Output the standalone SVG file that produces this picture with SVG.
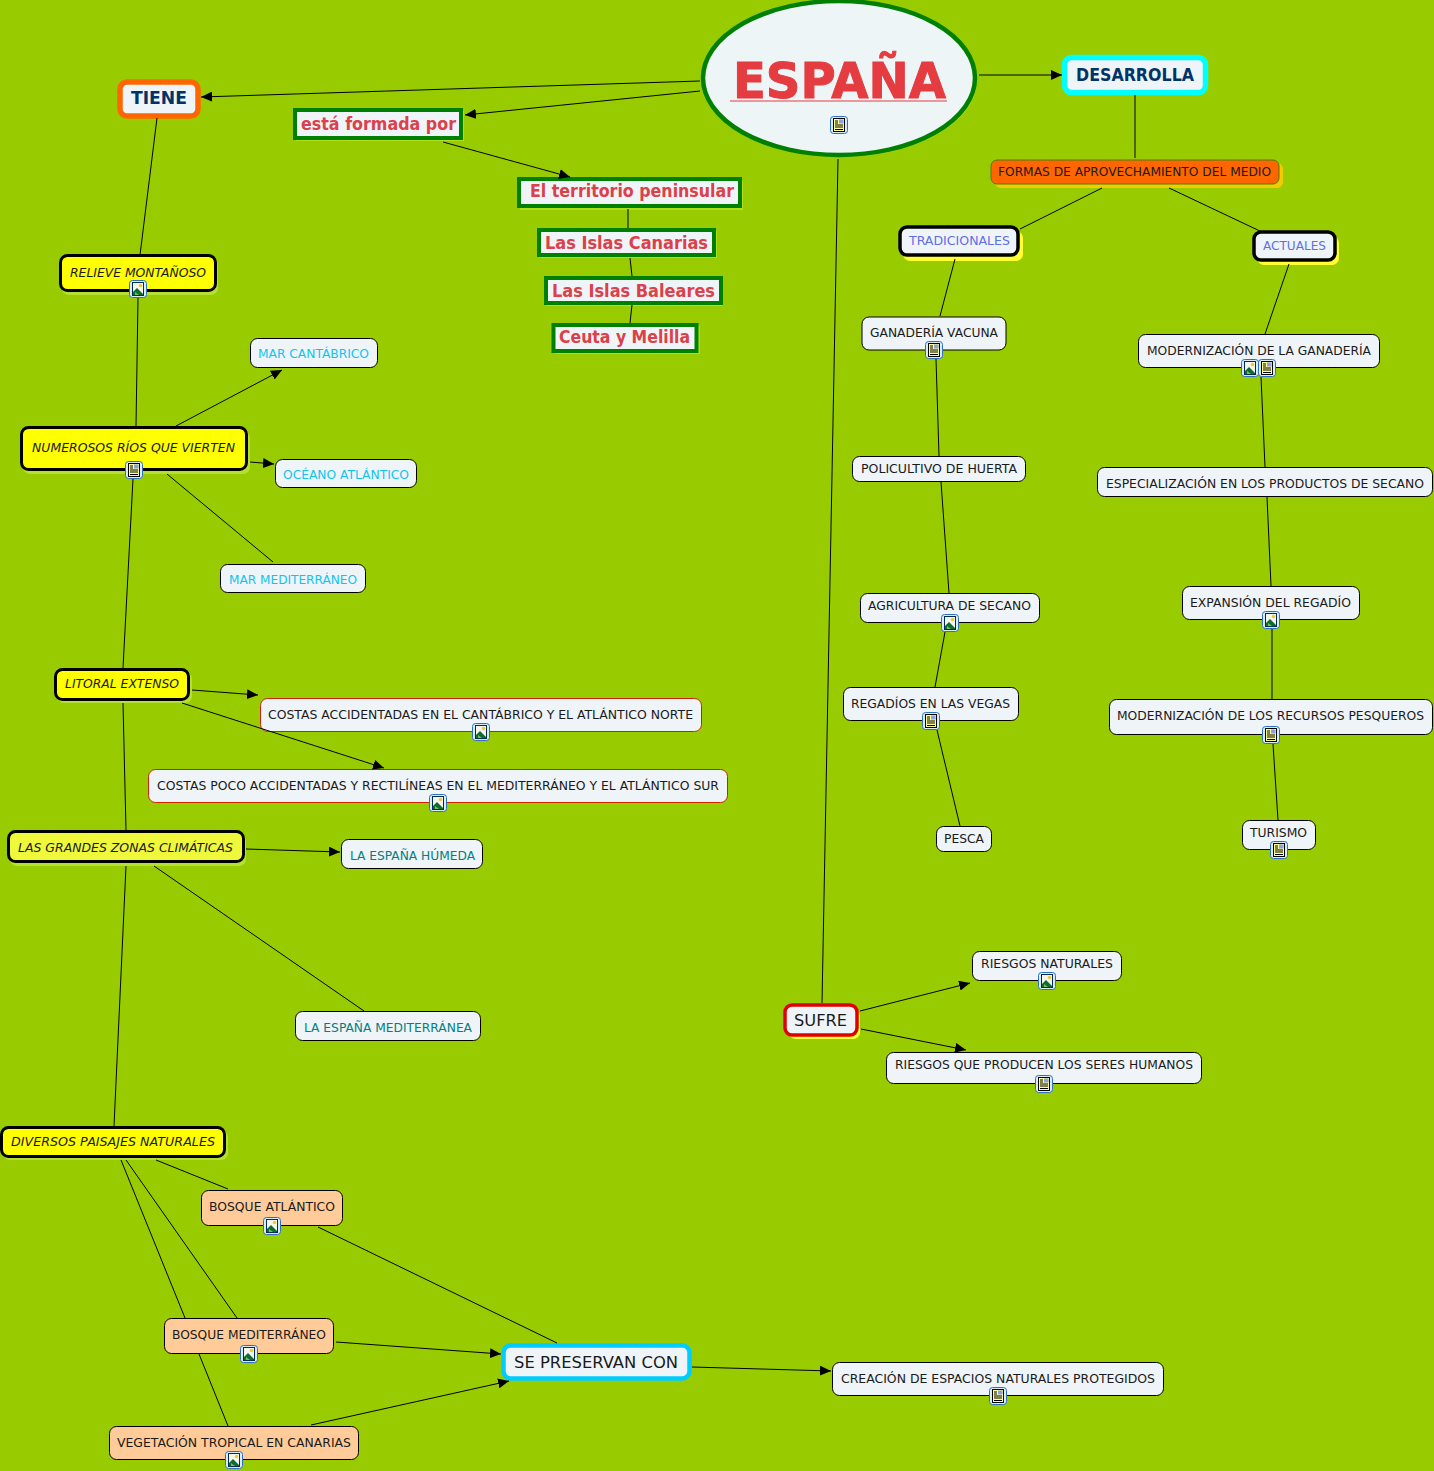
<svg xmlns="http://www.w3.org/2000/svg" width="1434" height="1471" viewBox="0 0 1434 1471">
<style>
text{font-family:"DejaVu Sans",Verdana,sans-serif;font-size:12px;fill:#1a1a1a}
.n{fill:#eff4f8;stroke:#000;stroke-width:1}
.nr{fill:#eff4f8;stroke:#cc2200;stroke-width:1}
.or{fill:#ffcc99;stroke:#000;stroke-width:1}
.y{fill:#ffff00;stroke:#000;stroke-width:3}
.w{fill:#eff4f8;stroke:#000;stroke-width:3.5}
.g{fill:#eff4f8;stroke:#008000;stroke-width:4}
.sg{fill:#ace01a}
.sy{fill:#ffff33}
.yt{font-style:italic;font-size:13px}
.gt{font-weight:bold;font-size:17px;fill:#dc4048}
.nv{font-weight:bold;font-size:17px;fill:#003366}
.cy{fill:#11c4ee}
.te{fill:#008080}
.bl{fill:#5f6fe8}
#c line{stroke:#000;stroke-width:1;fill:none}
#c .a{marker-end:url(#ah)}
</style>
<defs>
<marker id="ah" markerUnits="userSpaceOnUse" markerWidth="12" markerHeight="10" refX="11" refY="5" orient="auto"><path d="M0 0L11 5L0 10Z" fill="#000"/></marker>
<g id="doc"><rect x="-8.500" y="-8.500" width="17" height="17" rx="3" fill="#d8ecfa" stroke="#2f6fc0"/><rect x="-5.500" y="-6.500" width="11" height="13" fill="#ffff99" stroke="#000"/><path d="M-4 -4H-1M-4 -2H-1M-4 0H4M-4 2H4M-4 4.500H4" stroke="#000" stroke-width="1"/><rect x="0" y="-5.500" width="4.500" height="4" fill="#8fa0e0"/></g>
<g id="img"><rect x="-8.500" y="-8.500" width="17" height="17" rx="3" fill="#d8ecfa" stroke="#2f6fc0"/><rect x="-5.500" y="-6.500" width="11" height="13" fill="#f4f6ee" stroke="#002a5a"/><path d="M-5 6L-5 3L-1 -1L5 5L5 6Z" fill="#0f6b30"/><path d="M-3 3L1 6H-3Z" fill="#7fbf4f"/><circle cx="2.500" cy="-3.500" r="1.700" fill="#f0c830"/></g>
</defs>
<rect width="1434" height="1471" fill="#99cc00"/>
<g id="espana"><ellipse cx="841" cy="80" rx="136" ry="77" fill="#b5e033"/><ellipse cx="839" cy="78" rx="136" ry="77" fill="#eef5f7" stroke="#008000" stroke-width="4.500"/><text x="733" y="98" font-weight="bold" stroke="#e43c40" stroke-width="1" style="font-size:50px;fill:#e43c40" textLength="213" lengthAdjust="spacingAndGlyphs">ESPAÑA</text><rect x="730" y="100.500" width="217" height="1" fill="#e43c40"/><use href="#doc" x="839" y="125"/></g>
<g id="tiene"><rect x="120" y="82" width="78" height="34" rx="7" fill="#eff4f8" stroke="#ff6600" stroke-width="5.500"/><text class="nv" x="131" y="104" textLength="56" lengthAdjust="spacingAndGlyphs">TIENE</text></g>
<g id="formada"><rect x="296" y="111" width="168" height="30" class="sg"/><rect class="g" x="295" y="110" width="166" height="28"/><text class="gt" x="301" y="130" textLength="155" lengthAdjust="spacingAndGlyphs">está formada por</text></g>
<g id="peninsular"><rect x="520" y="181" width="223" height="29" class="sg"/><rect class="g" x="519" y="179" width="221" height="27"/><text class="gt" x="530" y="197" textLength="204" lengthAdjust="spacingAndGlyphs">El territorio peninsular</text></g>
<g id="canarias"><rect x="540" y="231" width="177" height="27" class="sg"/><rect class="g" x="539" y="230" width="175" height="25"/><text class="gt" x="545" y="249" textLength="163" lengthAdjust="spacingAndGlyphs">Las Islas Canarias</text></g>
<g id="baleares"><rect x="546" y="279" width="177" height="27" class="sg"/><rect class="g" x="546" y="278" width="175" height="25"/><text class="gt" x="552" y="297" textLength="163" lengthAdjust="spacingAndGlyphs">Las Islas Baleares</text></g>
<g id="ceuta"><rect x="555" y="326" width="145" height="28" class="sg"/><rect class="g" x="553.500" y="325" width="143" height="26"/><text class="gt" x="559" y="343" textLength="131" lengthAdjust="spacingAndGlyphs">Ceuta y Melilla</text></g>
<g id="desarrolla"><rect x="1064.500" y="57.500" width="141" height="35" rx="7" fill="#eff4f8" stroke="#00ffff" stroke-width="5.500"/><text class="nv" x="1076" y="81" textLength="118" lengthAdjust="spacingAndGlyphs">DESARROLLA</text></g>
<g id="formas"><rect x="995" y="163" width="288" height="25" rx="6" fill="#f0cc00"/><rect x="991" y="160" width="288" height="24" rx="6" fill="#ff6600" stroke="#4d7a00"/><text x="998" y="176" textLength="273" lengthAdjust="spacingAndGlyphs">FORMAS DE APROVECHAMIENTO DEL MEDIO</text></g>
<g id="tradicionales"><rect x="903" y="231" width="120" height="30" rx="7" class="sy"/><rect class="w" x="900" y="227" width="118" height="28" rx="7"/><text class="bl" x="909" y="245" textLength="101" lengthAdjust="spacingAndGlyphs">TRADICIONALES</text></g>
<g id="actuales"><rect x="1257" y="236" width="82" height="29" rx="7" class="sy"/><rect class="w" x="1254" y="232" width="81" height="28" rx="7"/><text class="bl" x="1263" y="250" textLength="63" lengthAdjust="spacingAndGlyphs">ACTUALES</text></g>
<g id="ganaderia"><rect class="n" x="862" y="317" width="144" height="33" rx="7"/><text x="870" y="337" textLength="128" lengthAdjust="spacingAndGlyphs">GANADERÍA VACUNA</text><use href="#doc" x="934" y="350"/></g>
<g id="modgan"><rect class="n" x="1138.500" y="334.500" width="241" height="33" rx="7"/><text x="1147" y="355" textLength="224" lengthAdjust="spacingAndGlyphs">MODERNIZACIÓN DE LA GANADERÍA</text><use href="#img" x="1250" y="368"/><use href="#doc" x="1267" y="368"/></g>
<g id="policultivo"><rect class="n" x="852.500" y="456.500" width="173" height="25" rx="7"/><text x="861" y="473" textLength="156" lengthAdjust="spacingAndGlyphs">POLICULTIVO DE HUERTA</text></g>
<g id="especial"><rect class="n" x="1097.500" y="467.500" width="335" height="29" rx="7"/><text x="1106" y="488" textLength="318" lengthAdjust="spacingAndGlyphs">ESPECIALIZACIÓN EN LOS PRODUCTOS DE SECANO</text></g>
<g id="agricultura"><rect class="n" x="860.500" y="593.500" width="179" height="29" rx="7"/><text x="868" y="610" textLength="163" lengthAdjust="spacingAndGlyphs">AGRICULTURA DE SECANO</text><use href="#img" x="950" y="623"/></g>
<g id="expansion"><rect class="n" x="1182.500" y="586.500" width="177" height="33" rx="7"/><text x="1190" y="607" textLength="161" lengthAdjust="spacingAndGlyphs">EXPANSIÓN DEL REGADÍO</text><use href="#img" x="1271" y="620"/></g>
<g id="regadios"><rect class="n" x="843.500" y="687.500" width="175" height="33" rx="7"/><text x="851" y="708" textLength="159" lengthAdjust="spacingAndGlyphs">REGADÍOS EN LAS VEGAS</text><use href="#doc" x="931" y="721"/></g>
<g id="pesqueros"><rect class="n" x="1109.500" y="699.500" width="323" height="35" rx="7"/><text x="1117" y="720" textLength="307" lengthAdjust="spacingAndGlyphs">MODERNIZACIÓN DE LOS RECURSOS PESQUEROS</text><use href="#doc" x="1271" y="735"/></g>
<g id="pesca"><rect class="n" x="936.500" y="826.500" width="55" height="25" rx="7"/><text x="944" y="843" textLength="40" lengthAdjust="spacingAndGlyphs">PESCA</text></g>
<g id="turismo"><rect class="n" x="1242.500" y="820.500" width="73" height="29" rx="7"/><text x="1250" y="837" textLength="57" lengthAdjust="spacingAndGlyphs">TURISMO</text><use href="#doc" x="1279" y="850"/></g>
<g id="sufre"><rect x="789" y="1009" width="71" height="30" rx="7" class="sy"/><rect x="785" y="1005" width="72" height="30" rx="7" fill="#eff4f8" stroke="#e00000" stroke-width="3.500"/><text x="794" y="1026" style="font-size:16px" textLength="53" lengthAdjust="spacingAndGlyphs">SUFRE</text></g>
<g id="rnat"><rect class="n" x="972.500" y="951.500" width="149" height="29" rx="7"/><text x="981" y="968" textLength="132" lengthAdjust="spacingAndGlyphs">RIESGOS NATURALES</text><use href="#img" x="1047" y="981"/></g>
<g id="rhum"><rect class="n" x="886.500" y="1052.500" width="315" height="31" rx="7"/><text x="895" y="1069" textLength="298" lengthAdjust="spacingAndGlyphs">RIESGOS QUE PRODUCEN LOS SERES HUMANOS</text><use href="#doc" x="1044" y="1084"/></g>
<g id="relieve"><rect x="62" y="258" width="156" height="37" rx="7" fill="#b5e033"/><rect class="y" x="60.500" y="255.500" width="155" height="35" rx="7"/><text class="yt" x="70" y="277" textLength="136" lengthAdjust="spacingAndGlyphs">RELIEVE MONTAÑOSO</text><use href="#img" x="138" y="289"/></g>
<g id="rios"><rect x="23" y="431" width="227" height="43" rx="7" fill="#b5e033"/><rect class="y" x="21.500" y="427.500" width="225" height="42" rx="7"/><text class="yt" x="32" y="452" textLength="203" lengthAdjust="spacingAndGlyphs">NUMEROSOS RÍOS QUE VIERTEN</text><use href="#doc" x="134" y="470"/></g>
<g id="cantabrico"><rect class="n" x="250.500" y="338.500" width="127" height="29" rx="7"/><text class="cy" x="258" y="358" textLength="111" lengthAdjust="spacingAndGlyphs">MAR CANTÁBRICO</text></g>
<g id="atlantico"><rect class="n" x="275.500" y="459.500" width="141" height="28" rx="7"/><text class="cy" x="283" y="479" textLength="126" lengthAdjust="spacingAndGlyphs">OCÉANO ATLÁNTICO</text></g>
<g id="mediterraneo"><rect class="n" x="220.500" y="564.500" width="145" height="28" rx="7"/><text class="cy" x="229" y="584" textLength="128" lengthAdjust="spacingAndGlyphs">MAR MEDITERRÁNEO</text></g>
<g id="litoral"><rect x="57" y="672" width="135" height="31" rx="7" fill="#b5e033"/><rect class="y" x="55.500" y="669.500" width="133" height="30" rx="7"/><text class="yt" x="65" y="688" textLength="114" lengthAdjust="spacingAndGlyphs">LITORAL EXTENSO</text></g>
<g id="costas1"><rect class="nr" x="260.500" y="698.500" width="441" height="33" rx="7"/><text x="268" y="719" textLength="425" lengthAdjust="spacingAndGlyphs">COSTAS ACCIDENTADAS EN EL CANTÁBRICO Y EL ATLÁNTICO NORTE</text><use href="#img" x="481" y="732"/></g>
<g id="costas2"><rect class="nr" x="148.500" y="769.500" width="579" height="33" rx="7"/><text x="157" y="790" textLength="562" lengthAdjust="spacingAndGlyphs">COSTAS POCO ACCIDENTADAS Y RECTILÍNEAS EN EL MEDITERRÁNEO Y EL ATLÁNTICO SUR</text><use href="#img" x="438" y="803"/></g>
<g id="climas"><rect x="10" y="834" width="236" height="32" rx="7" fill="#b5e033"/><rect x="8.500" y="831.500" width="235" height="30" rx="7" fill="#f0f83c" stroke="#000" stroke-width="3"/><text class="yt" x="18" y="852" textLength="215" lengthAdjust="spacingAndGlyphs">LAS GRANDES ZONAS CLIMÁTICAS</text></g>
<g id="humeda"><rect class="n" x="341.500" y="839.500" width="141" height="29" rx="7"/><text class="te" x="350" y="860" textLength="125" lengthAdjust="spacingAndGlyphs">LA ESPAÑA HÚMEDA</text></g>
<g id="medit"><rect class="n" x="295.500" y="1011.500" width="185" height="29" rx="7"/><text class="te" x="304" y="1032" textLength="168" lengthAdjust="spacingAndGlyphs">LA ESPAÑA MEDITERRÁNEA</text></g>
<g id="paisajes"><rect x="3" y="1130" width="225" height="30" rx="7" fill="#b5e033"/><rect class="y" x="1.500" y="1127.500" width="223" height="29" rx="7"/><text class="yt" x="11" y="1146" textLength="204" lengthAdjust="spacingAndGlyphs">DIVERSOS PAISAJES NATURALES</text></g>
<g id="batl"><rect class="or" x="201.500" y="1190.500" width="141" height="35" rx="7"/><text x="209" y="1211" textLength="126" lengthAdjust="spacingAndGlyphs">BOSQUE ATLÁNTICO</text><use href="#img" x="272" y="1226"/></g>
<g id="bmed"><rect class="or" x="164.500" y="1318.500" width="169" height="35" rx="7"/><text x="172" y="1339" textLength="154" lengthAdjust="spacingAndGlyphs">BOSQUE MEDITERRÁNEO</text><use href="#img" x="249" y="1354"/></g>
<g id="veg"><rect class="or" x="109.500" y="1426.500" width="249" height="33" rx="7"/><text x="117" y="1447" textLength="234" lengthAdjust="spacingAndGlyphs">VEGETACIÓN TROPICAL EN CANARIAS</text><use href="#img" x="234" y="1460"/></g>
<g id="preservan"><rect x="503.500" y="1345.500" width="186" height="33" rx="7" fill="#eff4f8" stroke="#00ccff" stroke-width="4.500"/><text x="514" y="1368" style="font-size:16px" textLength="164" lengthAdjust="spacingAndGlyphs">SE PRESERVAN CON</text></g>
<g id="creacion"><rect class="n" x="832.500" y="1362.500" width="331" height="33" rx="7"/><text x="841" y="1383" textLength="314" lengthAdjust="spacingAndGlyphs">CREACIÓN DE ESPACIOS NATURALES PROTEGIDOS</text><use href="#doc" x="998" y="1396"/></g>
<g id="c">
<line class="a" x1="700" y1="81" x2="201" y2="97"/>
<line class="a" x1="700" y1="91" x2="465" y2="115"/>
<line class="a" x1="979" y1="75" x2="1062" y2="75"/>
<line x1="1135" y1="95" x2="1135" y2="158"/>
<line x1="1102" y1="188" x2="1020" y2="229"/>
<line x1="1169" y1="188" x2="1262" y2="232"/>
<line class="a" x1="443" y1="142" x2="570" y2="177"/>
<line x1="628" y1="209" x2="628" y2="228"/>
<line x1="630" y1="258" x2="632" y2="276"/>
<line x1="632" y1="305" x2="630" y2="323"/>
<line x1="157" y1="118" x2="140" y2="255"/>
<line x1="138" y1="298" x2="136" y2="426"/>
<line class="a" x1="176" y1="426" x2="282" y2="370"/>
<line class="a" x1="250" y1="462" x2="274" y2="464"/>
<line x1="167" y1="474" x2="273" y2="562"/>
<line x1="133" y1="479" x2="123" y2="668"/>
<line class="a" x1="192" y1="690" x2="258" y2="695"/>
<line class="a" x1="182" y1="703" x2="384" y2="768"/>
<line x1="123" y1="703" x2="126" y2="830"/>
<line class="a" x1="246" y1="849" x2="340" y2="852"/>
<line x1="154" y1="866" x2="364" y2="1011"/>
<line x1="126" y1="866" x2="114" y2="1126"/>
<line x1="156" y1="1160" x2="228" y2="1189"/>
<line x1="126" y1="1160" x2="237" y2="1318"/>
<line x1="121" y1="1160" x2="185" y2="1318"/>
<line x1="199" y1="1354" x2="228" y2="1426"/>
<line x1="318" y1="1227" x2="557" y2="1343"/>
<line class="a" x1="336" y1="1342" x2="501" y2="1354"/>
<line class="a" x1="311" y1="1425" x2="509" y2="1381"/>
<line class="a" x1="692" y1="1367" x2="831" y2="1371"/>
<line x1="838" y1="159" x2="822" y2="1003"/>
<line class="a" x1="860" y1="1011" x2="970" y2="983"/>
<line class="a" x1="861" y1="1029" x2="966" y2="1050"/>
<line x1="955" y1="259" x2="940" y2="316"/>
<line x1="936" y1="359" x2="939" y2="456"/>
<line x1="941" y1="482" x2="949" y2="593"/>
<line x1="945" y1="632" x2="935" y2="687"/>
<line x1="937" y1="730" x2="960" y2="826"/>
<line x1="1289" y1="264" x2="1265" y2="334"/>
<line x1="1261" y1="377" x2="1265" y2="467"/>
<line x1="1267" y1="497" x2="1271" y2="586"/>
<line x1="1272" y1="629" x2="1272" y2="699"/>
<line x1="1273" y1="744" x2="1278" y2="820"/>
</g>
</svg>
